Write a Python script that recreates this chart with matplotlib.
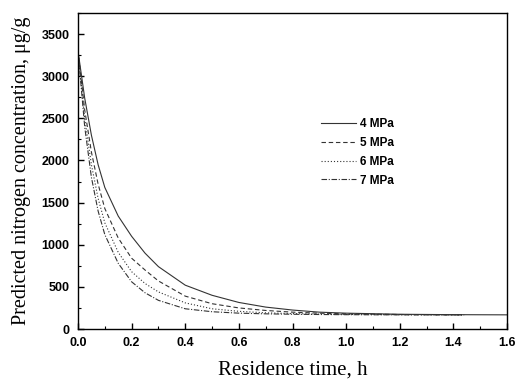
import matplotlib
matplotlib.use("Agg")
import matplotlib.pyplot as plt
from matplotlib.ticker import MultipleLocator

# Data
t_4 = [0, 0.025, 0.05, 0.075, 0.1, 0.15, 0.2, 0.25, 0.3, 0.4, 0.5, 0.6, 0.7, 0.8, 0.9, 1.0, 1.2, 1.4, 1.6]
c_4 = [3300, 2740, 2300, 1950, 1680, 1340, 1100, 900, 740, 520, 400, 315, 260, 225, 200, 188, 175, 170, 168]

t_o = [0, 0.025, 0.05, 0.075, 0.1, 0.15, 0.2, 0.25, 0.3, 0.4, 0.5, 0.6, 0.7, 0.8, 0.9, 1.0, 1.2, 1.44]
c_5 = [3300, 2600, 2100, 1720, 1430, 1080, 840, 700, 570, 390, 300, 250, 220, 200, 188, 180, 172, 168]
c_6 = [3300, 2500, 1950, 1550, 1260, 910, 680, 540, 440, 310, 240, 210, 192, 183, 177, 173, 170, 168]
c_7 = [3300, 2400, 1800, 1400, 1120, 780, 560, 430, 340, 240, 205, 188, 180, 175, 172, 170, 168, 167]

labels = ["4 MPa", "5 MPa", "6 MPa", "7 MPa"]

fig = plt.figure(figsize=(5.17, 3.82), dpi=100)
ax = fig.add_axes([78/517, 1-329/382, (507-78)/517, (329-13)/382])

col = "#333333"
lw = 0.8
ax.plot(t_4, c_4, color=col, lw=lw, ls="-", label=labels[0])
ax.plot(t_o, c_5, color=col, lw=lw, ls=(0, (4, 2.5)), label=labels[1])
ax.plot(t_o, c_6, color=col, lw=lw, ls=(0, (1, 1.8)), label=labels[2])
ax.plot(t_o, c_7, color=col, lw=lw, ls=(0, (5, 1.5, 1, 1.5)), label=labels[3])

ax.set_xlim(0, 1.6)
ax.set_ylim(0, 3750)
ax.xaxis.set_major_locator(MultipleLocator(0.2))
ax.xaxis.set_minor_locator(MultipleLocator(0.1))
ax.yaxis.set_major_locator(MultipleLocator(500))
ax.yaxis.set_minor_locator(MultipleLocator(250))
ax.tick_params(which="both", direction="in", top=False, right=False)
ax.tick_params(which="major", length=4, width=1)
ax.tick_params(which="minor", length=2.5, width=0.8)
for s in ax.spines.values():
    s.set_linewidth(1.0)

for lab in ax.get_xticklabels() + ax.get_yticklabels():
    lab.set_fontfamily("Liberation Sans")
    lab.set_fontweight("bold")
    lab.set_fontsize(9)
ax.xaxis.set_tick_params(pad=6)
ax.yaxis.set_tick_params(pad=6)

ax.set_xlabel("Residence time, h", family="Liberation Serif", fontsize=15, labelpad=8)
ax.set_ylabel("Predicted nitrogen concentration, \u03bcg/g", family="Liberation Serif", fontsize=14.5, labelpad=8)

leg = ax.legend(loc="upper left", bbox_to_anchor=((321-78)/429, (329-118)/316),
                frameon=False, handlelength=3.0, handletextpad=0.3, labelspacing=0.58,
                borderpad=0, borderaxespad=0,
                prop=dict(family="Liberation Sans", weight="bold", size=8.5))

fig.savefig("out.png", dpi=100)
